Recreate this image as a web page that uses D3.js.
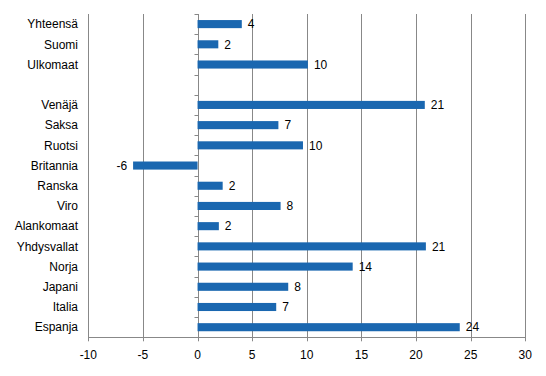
<!DOCTYPE html>
<html>
<head>
<meta charset="utf-8">
<script src="https://cdn.jsdelivr.net/npm/d3@7"></script>
<style>
    body { margin: 0; background: #fff; }
    text { font-family: "Liberation Sans", Arial, sans-serif; font-size: 12px; fill: #000; }
</style>
</head>
<body>
<svg id="chart" width="546" height="376"></svg>
<script>
(function() {
    // rows top to bottom, empty one is a spacer
    var categories = ['Yhteensä', 'Suomi', 'Ulkomaat', '', 'Venäjä', 'Saksa', 'Ruotsi', 'Britannia',
        'Ranska', 'Viro', 'Alankomaat', 'Yhdysvallat', 'Norja', 'Japani', 'Italia', 'Espanja'];
    var values = [4.05, 1.9, 10.1, null, 20.8, 7.4, 9.65, -5.9,
        2.3, 7.6, 1.95, 20.9, 14.2, 8.3, 7.2, 24.0];
    var labels = ['4', '2', '10', '', '21', '7', '10', '-6',
        '2', '8', '2', '21', '14', '8', '7', '24'];
    var xTicks = [-10, -5, 0, 5, 10, 15, 20, 25, 30];

    var left = 88.3, right = 525.3, top = 14, bottom = 337.3;
    var svg = d3.select('#chart');

    var x = d3.scaleLinear().domain([-10, 30]).range([left, right]);
    var y = d3.scaleBand().domain(d3.range(categories.length)).range([top, bottom]).paddingInner(0.6).paddingOuter(0.3);
    var step = y.step();

    // vertical gridlines
    svg.append('g').selectAll('line').data(xTicks).enter().append('line')
        .attr('x1', function(d) { return Math.round(x(d)) + 0.5; })
        .attr('x2', function(d) { return Math.round(x(d)) + 0.5; })
        .attr('y1', top)
        .attr('y2', bottom + 4)
        .attr('stroke', '#888')
        .attr('stroke-width', 1);

    // bottom axis line
    svg.append('line')
        .attr('x1', Math.round(left) + 0.5).attr('x2', Math.round(right) + 0.5)
        .attr('y1', Math.round(bottom) + 0.5).attr('y2', Math.round(bottom) + 0.5)
        .attr('stroke', '#888');

    // small ticks on the zero axis
    var x0 = Math.round(x(0)) + 0.5;
    svg.append('g').selectAll('line').data(d3.range(categories.length + 1)).enter().append('line')
        .attr('x1', x0 - 4).attr('x2', x0)
        .attr('y1', function(i) { return Math.round(top + i * step) + 0.5; })
        .attr('y2', function(i) { return Math.round(top + i * step) + 0.5; })
        .attr('stroke', '#888');

    // bars
    var rows = categories.map(function(c, i) { return { name: c, v: values[i], label: labels[i], i: i }; });
    svg.append('g').selectAll('rect').data(rows.filter(function(d) { return d.v !== null; })).enter().append('rect')
        .attr('x', function(d) { return x(Math.min(0, d.v)); })
        .attr('y', function(d) { return y(d.i); })
        .attr('width', function(d) { return Math.abs(x(d.v) - x(0)); })
        .attr('height', y.bandwidth())
        .attr('fill', '#1a67b0');

    // value labels
    svg.append('g').selectAll('text').data(rows.filter(function(d) { return d.v !== null; })).enter().append('text')
        .attr('x', function(d) { return d.v < 0 ? x(d.v) - 6 : x(d.v) + 6; })
        .attr('y', function(d) { return y(d.i) + y.bandwidth() / 2; })
        .attr('dy', '0.35em')
        .attr('text-anchor', function(d) { return d.v < 0 ? 'end' : 'start'; })
        .text(function(d) { return d.label; });

    // category labels
    svg.append('g').selectAll('text').data(rows).enter().append('text')
        .attr('x', 78)
        .attr('y', function(d) { return y(d.i) + y.bandwidth() / 2; })
        .attr('dy', '0.35em')
        .attr('text-anchor', 'end')
        .text(function(d) { return d.name; });

    // x tick labels
    svg.append('g').selectAll('text').data(xTicks).enter().append('text')
        .attr('x', function(d) { return x(d); })
        .attr('y', 359)
        .attr('text-anchor', 'middle')
        .text(function(d) { return d; });
})();
</script>
</body>
</html>
